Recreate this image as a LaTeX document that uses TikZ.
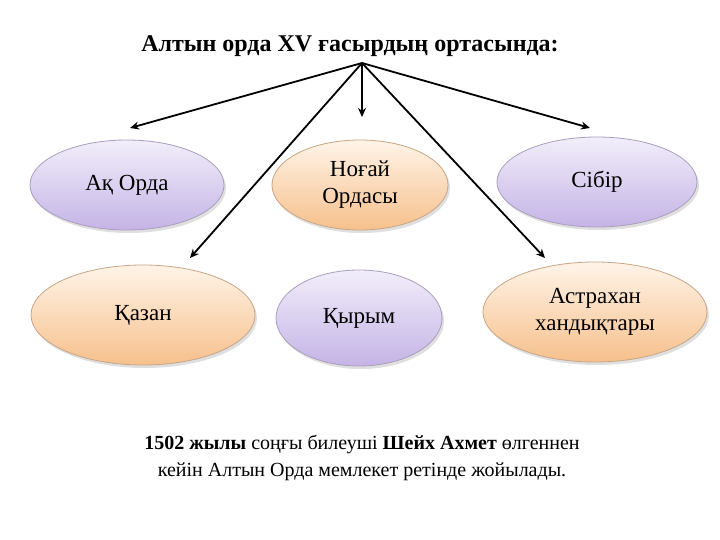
\documentclass[tikz,border=0pt]{standalone}
\usepackage{fontspec}
\setmainfont{Liberation Serif}
\usetikzlibrary{shapes.geometric,shadows,arrows.meta}
\definecolor{pt}{HTML}{F2EEFA}\definecolor{pb}{HTML}{C4B4E6}
\definecolor{ot}{HTML}{FFF4E8}\definecolor{ob}{HTML}{F6C08C}
\tikzset{
 ell/.style={ellipse,draw=#1!60!gray,line width=0.8pt,align=center,inner sep=1pt,font=\fontsize{23}{27}\selectfont,drop shadow={opacity=0.25,shadow xshift=2pt,shadow yshift=-3pt}},
 pur/.style={ell=pb,top color=pt,bottom color=pb,minimum width=#1},
 ora/.style={ell=ob,top color=ot,bottom color=ob,minimum width=#1},
 arr/.style={-{Stealth[length=9pt,width=8pt]},line width=1.8pt}
}
\begin{document}
\begin{tikzpicture}[x=1pt,y=-1pt]
\useasboundingbox (0,0) rectangle (720,540);
\fill[white] (0,0) rectangle (720,540);
\node[font=\bfseries\fontsize{24}{28}\selectfont] (t) at (350,46) {Алтын орда XV ғасырдың ортасында:};
\coordinate (o) at (362,63);
\node[pur=194pt,minimum height=90pt] (a) at (127,185) {Ақ Орда};
\node[ora=176pt,minimum height=90pt] (n) at (360,185) {Ноғай\\Ордасы};
\node[pur=200pt,minimum height=90pt] (s) at (597,182) {Сібір};
\node[ora=224pt,minimum height=100pt] (k) at (143,315) {Қазан};
\node[pur=166pt,minimum height=96pt] (q) at (359,318) {Қырым};
\node[ora=224pt,minimum height=100pt] (h) at (595,312) {Астрахан\\хандықтары};
\coordinate (ea) at (130,128);\coordinate (en) at (362,117);\coordinate (es) at (590,128);
\coordinate (ek) at (190,258);\coordinate (eh) at (545,258);
\foreach \e in {ea,en,es,ek,eh} \draw[arr] (o) -- (\e);
\node[align=center,font=\fontsize{20}{27}\selectfont] (b) at (362,458) {\textbf{1502 жылы} соңғы билеуші \textbf{Шейх Ахмет} өлгеннен\\кейін Алтын Орда мемлекет ретінде жойылады.};
\end{tikzpicture}
\end{document}
